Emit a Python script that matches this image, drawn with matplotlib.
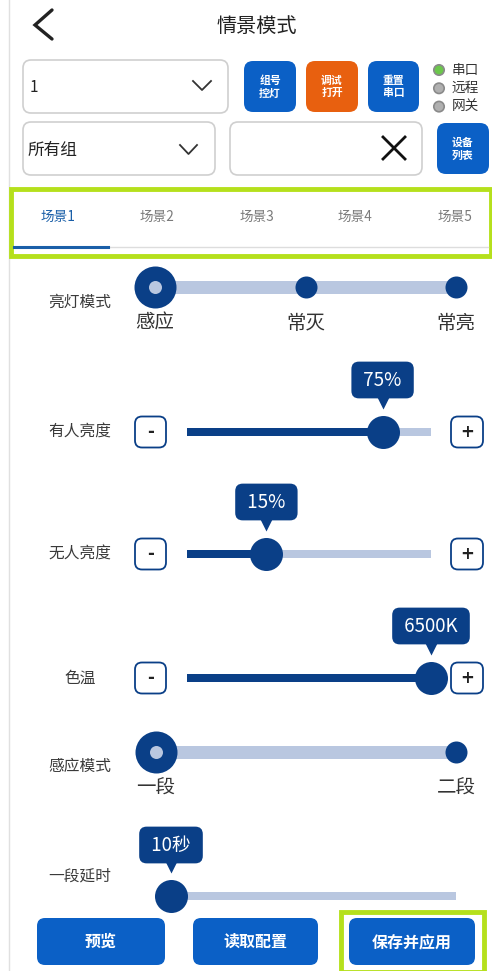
import matplotlib
matplotlib.use("Agg")
import matplotlib.pyplot as plt
from matplotlib.patches import FancyBboxPatch, Circle
from matplotlib.transforms import offset_copy

plt.rcParams['font.family'] = ['Noto Sans CJK SC', 'DejaVu Sans']

# ---------------- data ----------------
title = '情景模式'
group_value = '1'
group_filter = '所有组'
top_buttons = ['组号\n控灯', '调试\n打开', '重置\n串口']
side_button = '设备\n列表'
radio_labels = ['串口', '远程', '网关']
radio_selected = 0
tabs = ['场景1', '场景2', '场景3', '场景4', '场景5']
tab_selected = 0
mode_label = '亮灯模式'
mode_options = ['感应', '常灭', '常亮']
mode_selected = 0
slider_labels = ['有人亮度', '无人亮度', '色温']
slider_values = [75, 15, 6500]
slider_units = ['%', '%', 'K']
sense_label = '感应模式'
sense_options = ['一段', '二段']
sense_selected = 0
delay_label = '一段延时'
delay_value = 10
delay_unit = '秒'
bottom_buttons = ['预览', '读取配置', '保存并应用']

# ---------------- style ----------------
W, H = 492, 971
DARK = '#0a3f87'
LIGHT = '#b9c7e0'
BTN = '#0b60c6'
ORANGE = '#e8600f'
LIME = '#b5e01c'
TXT = '#3a3a3a'
PX = 0.72  # points per pixel at dpi 100

fig = plt.figure(figsize=(W / 100, H / 100), dpi=100)
ax = fig.add_axes([0, 0, 1, 1])
ax.set_xlim(0, W)
ax.set_ylim(H, 0)
ax.axis('off')


def rbox(x0, y0, x1, y1, r, fc, ec='none', lw=1.0, z=2):
    p = FancyBboxPatch((x0, y0), x1 - x0, y1 - y0,
                       boxstyle=f'round,pad=0,rounding_size={r}',
                       fc=fc, ec=ec, lw=lw, zorder=z)
    ax.add_patch(p)
    return p


# left border
ax.plot([9, 9], [0, H], color='#e0e0e0', lw=1, zorder=1)

# header
ax.plot([52, 35, 52], [10, 25, 39], color='#222222', lw=2.4,
        solid_capstyle='round', solid_joinstyle='miter')
ax.text(257, 26, title, ha='center', va='center', fontsize=14.5, color='#222222')

# dropdowns and search
rbox(23, 60, 228, 113, 8, 'white', '#cfcfcf', 1.2)
ax.text(30, 87, group_value, ha='left', va='center', fontsize=11, color='#222222')
ax.plot([193, 202, 211], [81, 90, 81], color='#333333', lw=1.3)
rbox(23, 122, 215, 175, 8, 'white', '#cfcfcf', 1.2)
ax.text(28, 150, group_filter, ha='left', va='center', fontsize=12, color='#222222')
ax.plot([180, 188.5, 197], [145, 154, 145], color='#333333', lw=1.3)
rbox(230, 122, 422, 175, 8, 'white', '#cfcfcf', 1.2)
ax.plot([383, 405], [137, 159], color='#111111', lw=2)
ax.plot([383, 405], [159, 137], color='#111111', lw=2)

# top buttons
btn_x = [(244, 296), (306, 358), (368, 419)]
btn_c = [BTN, ORANGE, BTN]
for (x0, x1), c, lab in zip(btn_x, btn_c, top_buttons):
    rbox(x0, 61, x1, 112, 9, c)
    ax.text((x0 + x1) / 2, 87, lab, ha='center', va='center', fontsize=7.8,
            color='white', linespacing=1.3, zorder=3, fontweight='bold')
rbox(437, 123, 489, 174, 9, BTN)
ax.text(463, 149, side_button, ha='center', va='center', fontsize=7.8,
        color='white', linespacing=1.3, zorder=3, fontweight='bold')

# radios
for i, lab in enumerate(radio_labels):
    y = 70 + i * 18.3
    fc = '#6cc74c' if i == radio_selected else '#b0b0b0'
    ax.add_patch(Circle((439, y), 5.2, fc=fc, ec='#8a8a8a', lw=1.2, zorder=3))
    ax.text(452, y, lab, ha='left', va='center', fontsize=9.8, color='#333333')

# tabs in highlight frame
ax.add_patch(FancyBboxPatch((11, 189), 480, 67, boxstyle='square,pad=0',
                            fc='white', ec=LIME, lw=3.5, zorder=4))
tab_x = [58, 157, 257, 355, 455]
for i, (tx, lab) in enumerate(zip(tab_x, tabs)):
    ax.text(tx, 217, lab, ha='center', va='center', fontsize=9.8,
            color='#1a5fa8' if i == tab_selected else '#7a7a7a', zorder=5)
ax.plot([108, 488], [247.5, 247.5], color='#dddddd', lw=1, zorder=5)
ax.plot([14, 108], [247, 247], color='#1a5fa8', lw=2.2, zorder=5)


# ---------------- sliders ----------------
def slider_axes(x0, x1, yc, lo, hi, h=120):
    s = fig.add_axes([x0 / W, 1 - (yc + h / 2) / H, (x1 - x0) / W, h / H])
    s.set_xlim(lo, hi)
    s.set_ylim(-1, 1)
    s.axis('off')
    return s


def discrete_slider(x0, x1, yc, options, sel, label_dy):
    s = slider_axes(x0, x1, yc, 0, len(options) - 1)
    s.plot([0, len(options) - 1], [0, 0], color=LIGHT, lw=13 * PX,
           solid_capstyle='butt', clip_on=False, zorder=1)
    xs = list(range(len(options)))
    others = [i for i in xs if i != sel]
    s.scatter(others, [0] * len(others), s=(22 * PX) ** 2, color=DARK,
              clip_on=False, zorder=2, linewidths=0)
    s.scatter([sel], [0], s=(42 * PX) ** 2, color=DARK, clip_on=False,
              zorder=3, linewidths=0)
    s.scatter([sel], [0], s=(13 * PX) ** 2, color=LIGHT, clip_on=False,
              zorder=4, linewidths=0)
    for i, lab in zip(xs, options):
        s.annotate(lab, (i, 0), xytext=(0, -label_dy * PX), textcoords='offset points',
                   ha='center', va='center', fontsize=14, color='#333333')
    return s


def value_slider(x0, x1, yc, lo, hi, value, text, filled=True, tip_dy=50):
    s = slider_axes(x0, x1, yc, lo, hi)
    s.plot([lo, hi], [0, 0], color=LIGHT, lw=8 * PX, solid_capstyle='butt',
           clip_on=False, zorder=1)
    if filled:
        s.plot([lo, value], [0, 0], color=DARK, lw=8 * PX, solid_capstyle='butt',
               clip_on=False, zorder=2)
    s.scatter([value], [0], s=(33 * PX) ** 2, color=DARK, clip_on=False,
              zorder=3, linewidths=0)
    tri = offset_copy(s.transData, fig=fig, x=0, y=29 * PX, units='points')
    s.plot([value], [0], marker='v', ms=8, color=DARK, mec='none',
           transform=tri, clip_on=False, zorder=4)
    s.annotate(' ' + text + ' ', (value, 0), xytext=(0, tip_dy * PX),
               textcoords='offset points',
               ha='center', va='center', fontsize=13.5, color='white', zorder=5,
               bbox=dict(boxstyle='round,pad=0.42,rounding_size=0.4',
                         fc=DARK, ec='none'))
    return s


def side_label(y, lab):
    ax.text(80, y, lab, ha='center', va='center', fontsize=11.3, color=TXT)


def pm_buttons(y):
    for x0, x1, sym in [(135, 166, '-'), (451, 483, '+')]:
        rbox(x0, y - 15.5, x1, y + 15.5, 7, 'white', DARK, 1.3)
        ax.text((x0 + x1) / 2, y, sym, ha='center', va='center', fontsize=12,
                fontweight='bold', color='#222222', family='DejaVu Sans', zorder=3)


# mode slider
side_label(302, mode_label)
discrete_slider(155, 456, 287, mode_options, mode_selected, 36)

# brightness / colour temp sliders
rows_y = [432, 554, 678]
ranges = [(-26, 100), (-26, 100), (2700, 6500)]
for y, lab, v, u, (lo, hi) in zip(rows_y, slider_labels, slider_values,
                                  slider_units, ranges):
    side_label(y, lab)
    pm_buttons(y)
    value_slider(187, 431, y, lo, hi, v, f'{v}{u}', filled=True, tip_dy=52)

# sense mode slider
side_label(766, sense_label)
discrete_slider(156, 456, 752, sense_options, sense_selected, 36)

# delay slider
side_label(876, delay_label)
value_slider(171, 456, 896, 10, 120, delay_value, f'{delay_value}{delay_unit}',
             filled=False, tip_dy=51)

# bottom buttons
bb_x = [(37, 165), (193, 318), (349, 475)]
for (x0, x1), lab in zip(bb_x, bottom_buttons):
    rbox(x0, 918, x1, 965, 8, BTN)
    ax.text((x0 + x1) / 2, 942, lab, ha='center', va='center', fontsize=11.5,
            fontweight='bold', color='white', zorder=3)
ax.add_patch(FancyBboxPatch((341, 912), 143, 60, boxstyle='square,pad=0',
                            fc='none', ec=LIME, lw=3.5, zorder=4, clip_on=False))

fig.savefig('out.png', dpi=100, facecolor='white')
